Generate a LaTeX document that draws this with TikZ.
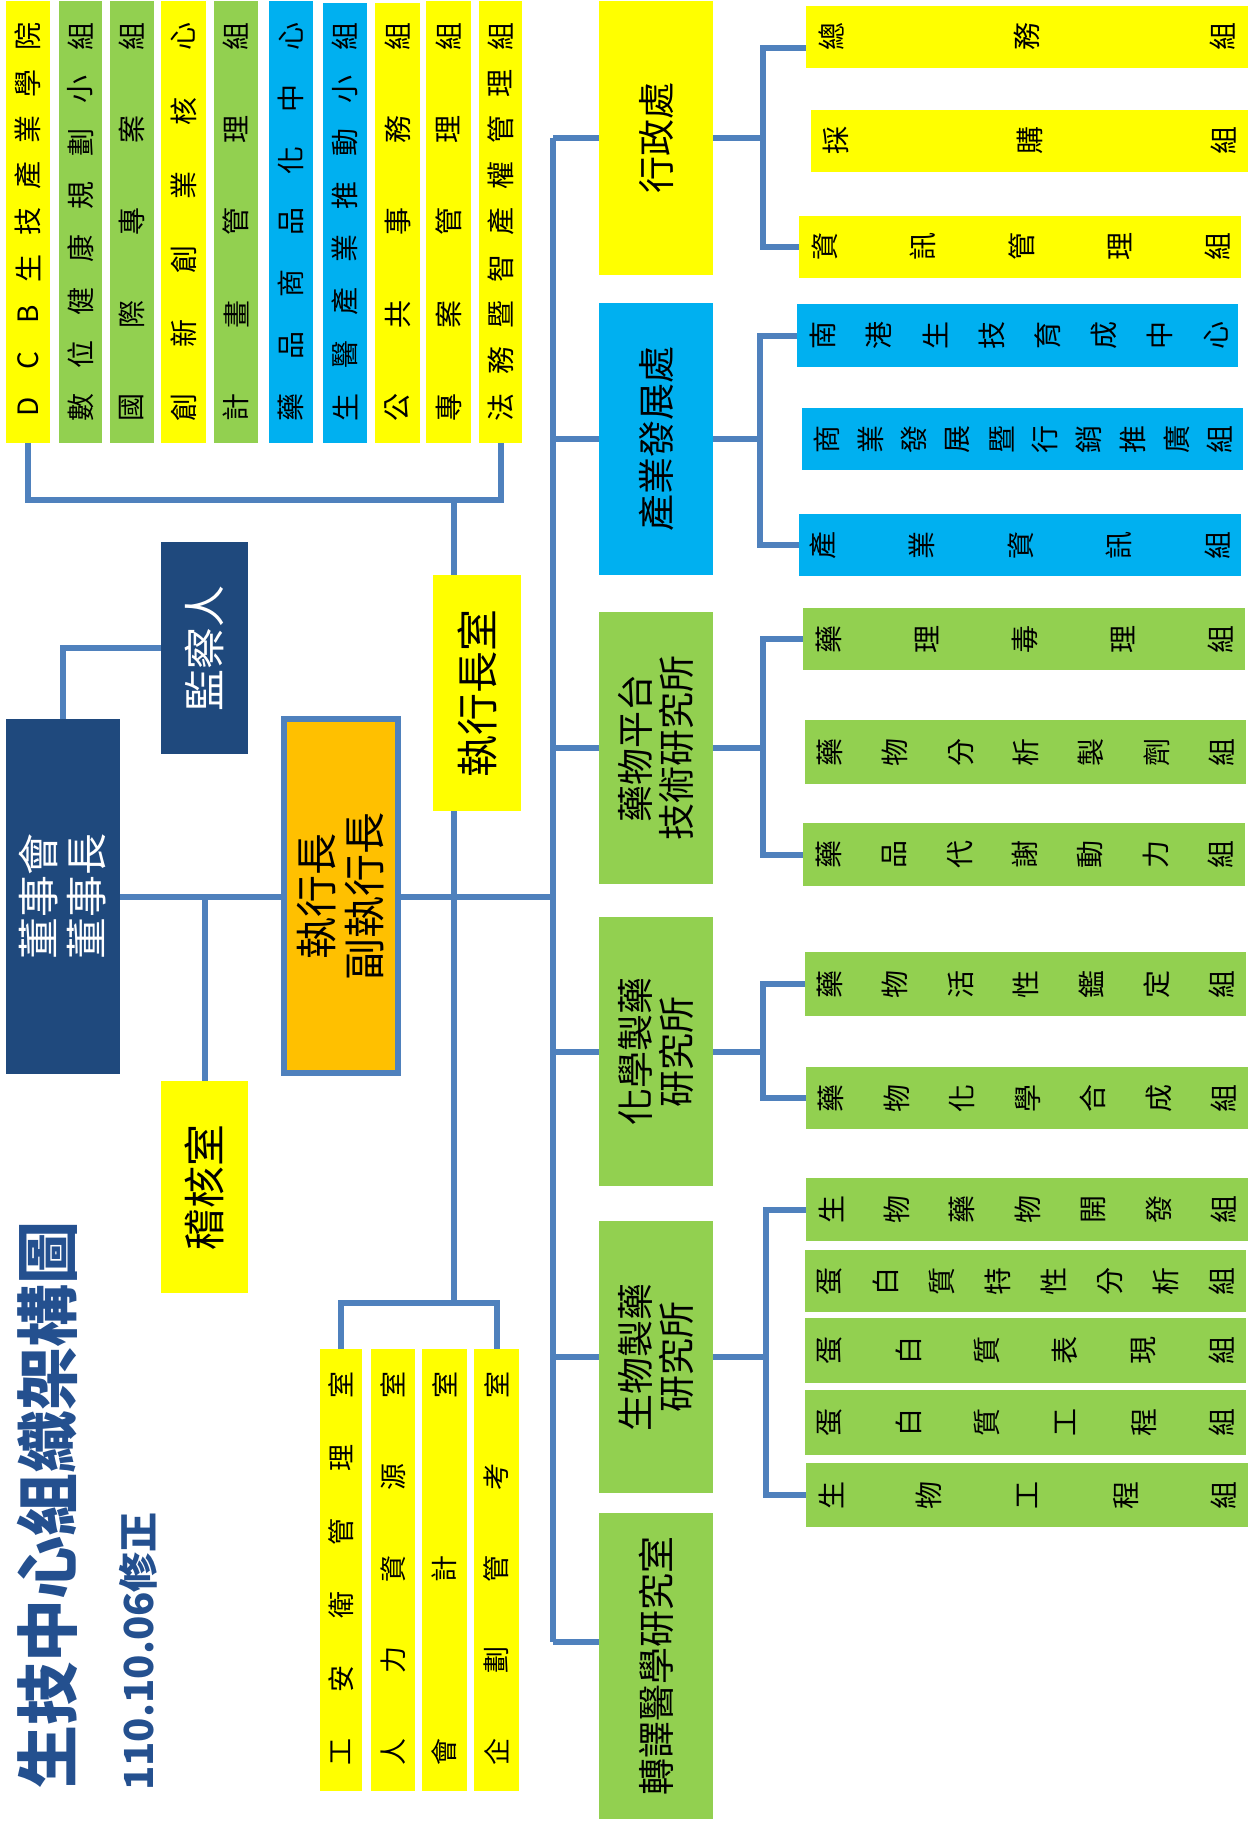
\documentclass[tikz,border=0pt]{standalone}
\usepackage{fontspec}
\setmainfont{Noto Sans CJK TC}
\usetikzlibrary{fit,calc}
\definecolor{lnblue}{HTML}{4F81BD}
\definecolor{ylw}{HTML}{FFFF00}
\definecolor{grn}{HTML}{92D050}
\definecolor{sky}{HTML}{00B0F0}
\definecolor{navy}{HTML}{1F497D}
\definecolor{orng}{HTML}{FFC000}
\definecolor{ttl}{HTML}{24508F}
\pgfdeclarelayer{bg}\pgfsetlayers{bg,main}
\newcommand\spreadchars[5]{%
  \foreach \chh [count=\k] in {#5} {\xdef\scN{\k}}%
  \foreach \chh [count=\k from 0] in {#5} {%
    \pgfmathsetmacro\scp{\k/(\scN-1)}%
    \path (#3) -- (#4) node[#1, pos=\scp] (#2-\k) {\chh};}%
}
\newcommand\rbox[4]{\node[fit={(#2)(#3)}, inner sep=0pt, fill=#4] (#1) {};}
\tikzset{
  chr/.style={rotate=90, inner sep=0pt, font=\fontsize{28}{30}\selectfont},
  bchr/.style={rotate=90, inner sep=0pt, font=\fontsize{27}{29}\selectfont},
  bigtxt/.style={rotate=90, inner sep=0pt, align=center, font=\fontsize{42}{48}\selectfont},
  midtxt/.style={rotate=90, inner sep=0pt, align=center, font=\fontsize{37}{41}\selectfont},
  conn/.style={draw=lnblue, line width=6pt, line join=miter},
}
\begin{document}
\begin{tikzpicture}[x=1pt,y=-1pt]
\useasboundingbox (0,0) rectangle (1248,1827);
% top strips
\rbox{t1}{6,1}{50,443}{ylw}
\rbox{t2}{59,1}{102,443}{grn}
\rbox{t3}{110,1}{154,443}{grn}
\rbox{t4}{161,1}{206,443}{ylw}
\rbox{t5}{214,1}{258,443}{grn}
\rbox{t6}{269,1}{313,443}{sky}
\rbox{t7}{323,3}{367,443}{sky}
\rbox{t8}{375,3}{420,443}{ylw}
\rbox{t9}{426,1}{471,443}{ylw}
\rbox{t10}{479,1}{522,443}{ylw}
\spreadchars{chr}{t1c}{28,407}{28,37}{D,C,B,生,技,產,業,學,院}
\spreadchars{chr}{t2c}{80.5,407}{80.5,37}{數,位,健,康,規,劃,小,組}
\spreadchars{chr}{t3c}{132,407}{132,37}{國,際,專,案,組}
\spreadchars{chr}{t4c}{183.5,407}{183.5,37}{創,新,創,業,核,心}
\spreadchars{chr}{t5c}{236,407}{236,37}{計,畫,管,理,組}
\spreadchars{chr}{t6c}{291,407}{291,37}{藥,品,商,品,化,中,心}
\spreadchars{chr}{t7c}{345,407}{345,37}{生,醫,產,業,推,動,小,組}
\spreadchars{chr}{t8c}{397.5,407}{397.5,37}{公,共,事,務,組}
\spreadchars{chr}{t9c}{448.5,407}{448.5,37}{專,案,管,理,組}
\spreadchars{chr}{t10c}{500.5,407}{500.5,37}{法,務,暨,智,產,權,管,理,組}
% left boxes
\rbox{board}{6,719}{120,1074}{navy}
\node[bigtxt, text=white] (board-t) at (board) {董事會\\董事長};
\rbox{sup}{161,542}{248,754}{navy}
\node[bigtxt, text=white] (sup-t) at (sup) {監察人};
\rbox{audit}{161,1081}{248,1293}{ylw}
\node[bigtxt] (audit-t) at (audit) {稽核室};
\node[fit={(284,719)(398,1073)}, inner sep=0pt, fill=orng, draw=lnblue, line width=6pt] (ceo) {};
\node[bigtxt] (ceo-t) at (ceo) {執行長\\副執行長};
\rbox{ceoroom}{433,575}{521,811}{ylw}
\node[bigtxt] (ceoroom-t) at (ceoroom) {執行長室};
% bottom strips
\rbox{b1}{320,1349}{362,1791}{ylw}
\rbox{b2}{371,1349}{415,1791}{ylw}
\rbox{b3}{422,1349}{467,1791}{ylw}
\rbox{b4}{474,1349}{519,1791}{ylw}
\spreadchars{bchr}{b1c}{341,1752}{341,1385}{工,安,衛,管,理,室}
\spreadchars{bchr}{b2c}{393,1752}{393,1385}{人,力,資,源,室}
\spreadchars{bchr}{b3c}{444.5,1752}{444.5,1385}{會,計,室}
\spreadchars{bchr}{b4c}{496.5,1752}{496.5,1385}{企,劃,管,考,室}
% title
\node[rotate=90, anchor=west, inner sep=0pt, text=ttl, font=\fontsize{63}{63}\selectfont\bfseries] (title) at (47,1789) {生技中心組織架構圖};
\node[rotate=90, anchor=west, inner sep=0pt, text=ttl, font=\fontsize{40}{40}\selectfont\bfseries] (subtitle) at (138,1791) {110.10.06修正};
% right main boxes
\rbox{admin}{599,1}{713,275}{ylw}
\node[midtxt] (admin-t) at (admin) {行政處};
\rbox{ind}{599,303}{713,575}{sky}
\node[midtxt] (ind-t) at (ind) {產業發展處};
\rbox{pharm}{599,612}{713,884}{grn}
\node[midtxt] (pharm-t) at (pharm) {藥物平台\\技術研究所};
\rbox{chem}{599,917}{713,1186}{grn}
\node[midtxt] (chem-t) at (chem) {化學製藥\\研究所};
\rbox{bio}{599,1221}{713,1493}{grn}
\node[midtxt] (bio-t) at (bio) {生物製藥\\研究所};
\rbox{trans}{599,1513}{713,1819}{grn}
\node[midtxt] (trans-t) at (trans) {轉譯醫學研究室};
% sub boxes
\rbox{a1}{806,6}{1248,68}{ylw}
\rbox{a2}{811,110}{1248,172}{ylw}
\rbox{a3}{799,216}{1241,278}{ylw}
\spreadchars{chr}{a1c}{831,37}{1223,37}{總,務,組}
\spreadchars{chr}{a2c}{836,141}{1224,141}{採,購,組}
\spreadchars{chr}{a3c}{825,247}{1218,247}{資,訊,管,理,組}
\rbox{i1}{797,304}{1238,367}{sky}
\rbox{i2}{802,408}{1243,470}{sky}
\rbox{i3}{799,514}{1241,576}{sky}
\spreadchars{chr}{i1c}{823,335.5}{1216,335.5}{南,港,生,技,育,成,中,心}
\spreadchars{chr}{i2c}{827,439}{1220,439}{商,業,發,展,暨,行,銷,推,廣,組}
\spreadchars{chr}{i3c}{823,545}{1218,545}{產,業,資,訊,組}
\rbox{p1}{803,608}{1245,670}{grn}
\rbox{p2}{805,720}{1246,784}{grn}
\rbox{p3}{803,823}{1245,886}{grn}
\spreadchars{chr}{p1c}{829,639}{1221,639}{藥,理,毒,理,組}
\spreadchars{chr}{p2c}{830,752}{1222,752}{藥,物,分,析,製,劑,組}
\spreadchars{chr}{p3c}{829,854.5}{1221,854.5}{藥,品,代,謝,動,力,組}
\rbox{c1}{805,952}{1246,1016}{grn}
\rbox{c2}{806,1067}{1248,1129}{grn}
\spreadchars{chr}{c1c}{830,984}{1222,984}{藥,物,活,性,鑑,定,組}
\spreadchars{chr}{c2c}{831,1098}{1224,1098}{藥,物,化,學,合,成,組}
\rbox{g1}{806,1178}{1248,1241}{grn}
\rbox{g2}{805,1250}{1246,1312}{grn}
\rbox{g3}{805,1318}{1246,1383}{grn}
\rbox{g4}{805,1390}{1246,1455}{grn}
\rbox{g5}{806,1463}{1248,1527}{grn}
\spreadchars{chr}{g1c}{831,1209.5}{1224,1209.5}{生,物,藥,物,開,發,組}
\spreadchars{chr}{g2c}{830,1281}{1222,1281}{蛋,白,質,特,性,分,析,組}
\spreadchars{chr}{g3c}{830,1350.5}{1222,1350.5}{蛋,白,質,表,現,組}
\spreadchars{chr}{g4c}{830,1422.5}{1222,1422.5}{蛋,白,質,工,程,組}
\spreadchars{chr}{g5c}{831,1495}{1224,1495}{生,物,工,程,組}
% connectors
\coordinate (topj) at (454,500);
\coordinate (botj) at (454,1303);
\coordinate (tr) at (553,0);
\coordinate (tmid) at (553,896.5);
\coordinate (ttop) at (553,138);
\coordinate (tbot) at (553,1642);
\coordinate (av) at (763,0);
\coordinate (iv) at (760,0);
\coordinate (pv) at (763,0);
\coordinate (cv) at (763,0);
\coordinate (gv) at (766,0);
\begin{pgfonlayer}{bg}
\draw[conn] (t1.south) |- (topj) -| (t10.south);
\draw[conn] (topj) -- (botj);
\draw[conn] (b1.north) |- (botj) -| (b4.north);
\draw[conn] (board.east) -- (tmid);
\draw[conn] (board.north) |- (sup.west);
\draw[conn] (audit.north) -- (audit.north |- tmid);
\draw[conn] (ttop) -- (tbot);
\draw[conn] (admin.west) -- (tr |- admin.west);
\draw[conn] (ind.west) -- (tr |- ind.west);
\draw[conn] (pharm.west) -- (tr |- pharm.west);
\draw[conn] (chem.west) -- (tr |- chem.west);
\draw[conn] (bio.west) -- (tr |- bio.west);
\draw[conn] (trans.west |- tbot) -- (tbot);
\draw[conn] ([yshift=-11pt]a1.west) -| (av |- a3.west) -- (a3.west);
\draw[conn] (admin.east) -- (av |- admin.east);
\draw[conn] (i1.west) -| (iv |- i3.west) -- (i3.west);
\draw[conn] (ind.east) -- (iv |- ind.east);
\draw[conn] (p1.west) -| (pv |- p3.west) -- (p3.west);
\draw[conn] (pharm.east) -- (pv |- pharm.east);
\draw[conn] (c1.west) -| (cv |- c2.west) -- (c2.west);
\draw[conn] (chem.east) -- (cv |- chem.east);
\draw[conn] (g1.west) -| (gv |- g5.west) -- (g5.west);
\draw[conn] (bio.east) -- (gv |- bio.east);
\end{pgfonlayer}
\end{tikzpicture}
\end{document}
